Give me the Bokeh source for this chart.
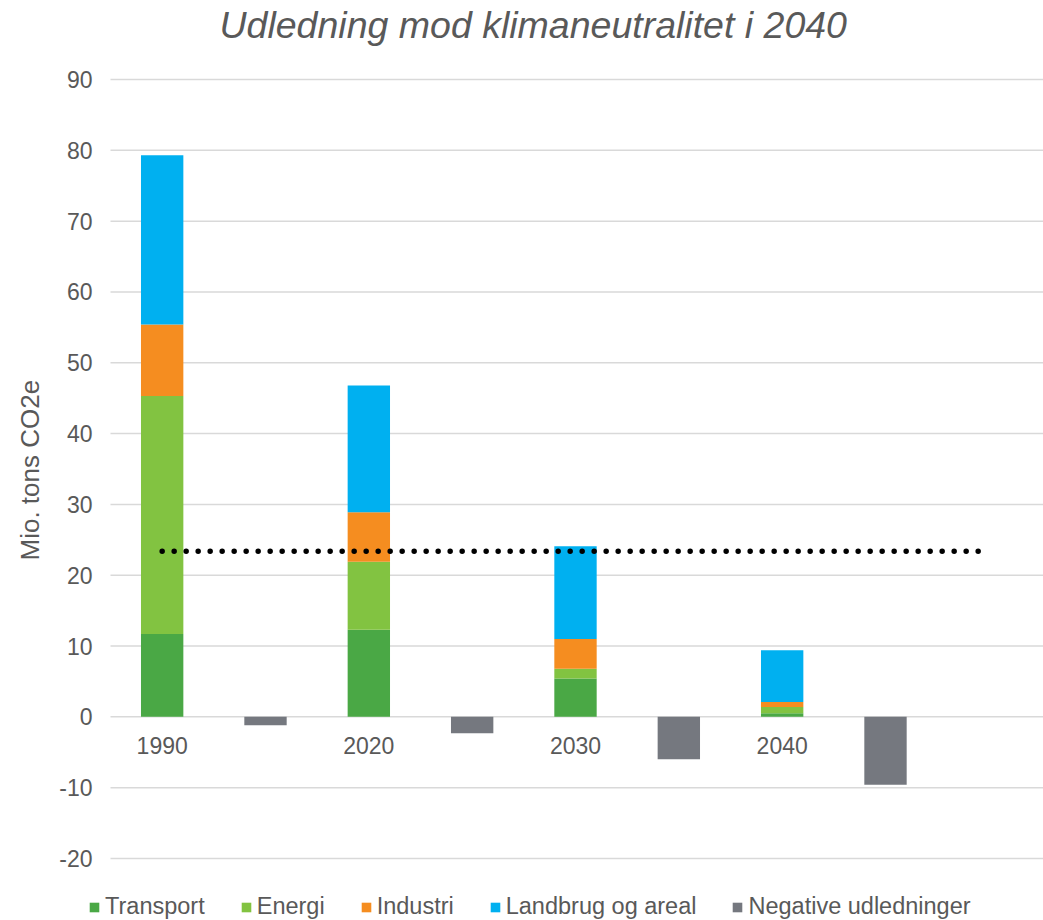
from bokeh.plotting import figure
from bokeh.models import (ColumnDataSource, Range1d, FixedTicker, Legend, Title,
                          CustomJSTickFormatter)
from bokeh.core.properties import value
from bokeh.embed import file_html
from bokeh.resources import INLINE

# ---- data ----
years = ["1990", "2020", "2030", "2040"]
transport = [11.7, 12.3, 5.4, 0.5]
energi = [33.6, 9.6, 1.4, 0.9]
industri = [10.1, 7.0, 4.2, 0.7]
landbrug = [23.9, 17.9, 13.1, 7.3]
negative = [-1.2, -2.3, -6.0, -9.6]
target_level = 23.4
series_names = ["Transport", "Energi", "Industri", "Landbrug og areal"]
neg_name = "Negative udledninger"
y_ticks = [-20, -10, 0, 10, 20, 30, 40, 50, 60, 70, 80, 90]

colors = ["#4AA845", "#82C341", "#F58D20", "#00B0F0"]
neg_color = "#75787F"
FONT = "Liberation Sans"
TXT = "#595959"

# category slots: each year followed by its negative-emission bar, plus one empty slot
x_main = [2 * i for i in range(len(years))]
x_neg = [2 * i + 1 for i in range(len(years))]
n_slots = 2 * len(years) + 1

# ---- layout constants (pixels) ----
W, H = 1043, 920
border_left, border_right, border_top = 86, 0, 47
slot_px = 930.0 / n_slots          # width of one category slot
extra_left = 24.0                  # frame space left of the first slot (for the legend)
ppu = 779.0 / 110.0                # px per y unit
top_gap = 32.0                     # px between frame top and the 90 gridline
frame_w = W - border_left - border_right
frame_h = H - border_top
x0 = -0.5 - extra_left / slot_px
x1 = x0 + frame_w / slot_px
y1 = y_ticks[-1] + top_gap / ppu
y0 = y1 - frame_h / ppu

src = ColumnDataSource(dict(x=x_main, Transport=transport, Energi=energi,
                            Industri=industri, **{"Landbrug og areal": landbrug}))
nsrc = ColumnDataSource(dict(x=x_neg, v=negative))
lsrc = ColumnDataSource(dict(x=x_main, y=[0] * len(years), t=years))
gsrc = ColumnDataSource(dict(y=y_ticks, x0=[-0.5] * len(y_ticks), x1=[x1] * len(y_ticks)))

p = figure(width=W, height=H,
           x_range=Range1d(x0, x1), y_range=Range1d(y0, y1),
           output_backend="svg", toolbar_location=None,
           min_border_left=border_left, min_border_right=border_right,
           min_border_top=border_top, min_border_bottom=0)

p.title.text = "Udledning mod klimaneutralitet i 2040"
p.title.text_font = FONT
p.title.text_font_style = "italic"
p.title.text_font_size = "37.5px"
p.title.text_color = TXT
p.title.align = "left"
p.title.offset = 133
p.title.vertical_align = "top"
p.title.standoff = 0

# horizontal gridlines over the category area
p.segment(x0="x0", x1="x1", y0="y", y1="y", source=gsrc, line_color="#D9D9D9", line_width=1.5)

bw = 0.41
r_stack = p.vbar_stack(series_names, x="x", width=bw, source=src, color=colors, line_color=None)
r_neg = p.vbar(x="x", top="v", bottom=0, width=bw, source=nsrc, color=neg_color, line_color=None)

# target dotted line spanning from first category to last slot
p.line(x=[x_main[0], n_slots - 1], y=[target_level, target_level], line_color="black",
       line_width=5.5, line_dash="0 12", line_cap="round")

# category labels beneath zero line
p.text(x="x", y="y", text="t", source=lsrc, text_font=value(FONT), text_font_size="23px",
       text_color=TXT, text_align="center", text_baseline="middle", y_offset=29)

p.xaxis.visible = False
p.xgrid.visible = False
p.ygrid.visible = False
p.yaxis.ticker = FixedTicker(ticks=y_ticks)
p.yaxis.formatter = CustomJSTickFormatter(code="return tick.toString()")
p.yaxis.axis_line_color = None
p.yaxis.major_tick_line_color = None
p.yaxis.minor_tick_line_color = None
p.yaxis.major_tick_out = 0
p.yaxis.major_tick_in = 0
p.yaxis.minor_tick_out = 0
p.yaxis.major_label_text_font = FONT
p.yaxis.major_label_text_font_size = "23px"
p.yaxis.major_label_text_color = TXT
p.yaxis.major_label_standoff = -6
p.outline_line_color = None

ytitle = Title(text="Mio. tons CO2e", align="left", offset=360, standoff=20,
               vertical_align="top",
               text_font=FONT, text_font_size="26px", text_font_style="normal",
               text_color=TXT)
p.add_layout(ytitle, "left")

items = [(n, [r]) for n, r in zip(series_names, r_stack)] + [(neg_name, [r_neg])]
legend = Legend(items=items, orientation="horizontal", location=(2, 0),
                label_text_font=FONT, label_text_font_size="23.5px", label_text_color=TXT,
                glyph_width=12, glyph_height=12, label_standoff=5, spacing=35,
                padding=0, margin=0, border_line_color=None, background_fill_alpha=0)
p.add_layout(legend, "center")

open("out.html", "w").write(file_html(p, INLINE))
